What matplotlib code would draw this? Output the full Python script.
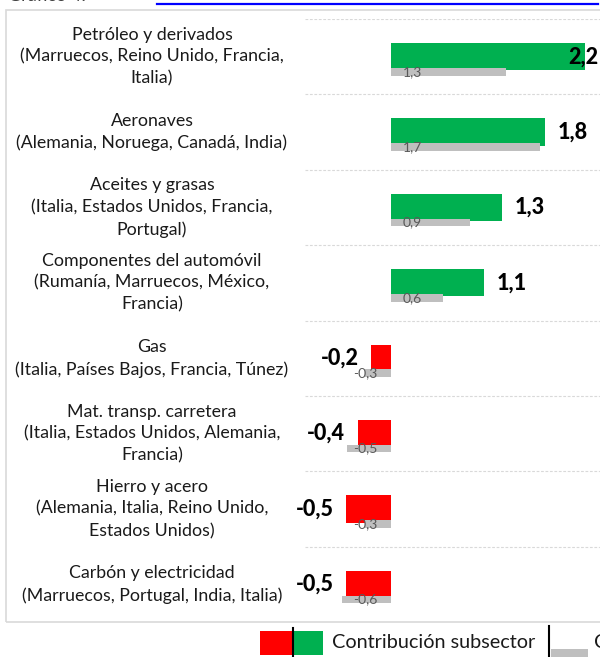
import matplotlib
matplotlib.use("Agg")
import matplotlib.pyplot as plt
from matplotlib.patches import Rectangle
from matplotlib.lines import Line2D
from matplotlib.transforms import blended_transform_factory

plt.rcParams["font.family"] = ["Lato", "DejaVu Sans"]

# Data
sectores = [
    "Petróleo y derivados\n(Marruecos, Reino Unido, Francia,\nItalia)",
    "Aeronaves\n(Alemania, Noruega, Canadá, India)",
    "Aceites y grasas\n(Italia, Estados Unidos, Francia,\nPortugal)",
    "Componentes del automóvil\n(Rumanía, Marruecos, México,\nFrancia)",
    "Gas\n(Italia, Países Bajos, Francia, Túnez)",
    "Mat. transp. carretera\n(Italia, Estados Unidos, Alemania,\nFrancia)",
    "Hierro y acero\n(Alemania, Italia, Reino Unido,\nEstados Unidos)",
    "Carbón y electricidad\n(Marruecos, Portugal, India, Italia)",
]
contribucion = [2.22, 1.76, 1.27, 1.06, -0.23, -0.38, -0.51, -0.51]
contribucion_prev = [1.31, 1.70, 0.90, 0.59, -0.30, -0.50, -0.30, -0.56]

W, H = 600, 657
DPI = 100
fig = plt.figure(figsize=(W / DPI, H / DPI), dpi=DPI)

def fx(px):
    return px / W

def fy(py):
    return 1 - py / H

# Header remains (cropped title and link underline)
fig.text(fx(8), fy(1.0), "Gráfico 4:", fontsize=13, color="#404040", va="baseline", ha="left")
fig.add_artist(Line2D([fx(157), fx(598)], [fy(4), fy(4)], color="#0000FF", lw=1.6))

# Frame
fig.add_artist(Rectangle((fx(6), fy(622)), 1.0, (622 - 10) / H, transform=fig.transFigure,
                         fill=False, edgecolor="#d9d9d9", lw=1.2))

ax = fig.add_axes([fx(305), fy(622), fx(600 - 305), (622 - 19) / H])
n = len(sectores)
ypos = list(range(n))
colors = ["#00B050" if v >= 0 else "#FF0000" for v in contribucion]

ax.barh(ypos, contribucion, height=0.36, color=colors, zorder=2)
ax.barh([y + 0.2 for y in ypos], contribucion_prev, height=0.1, color="#BFBFBF", zorder=3)

xmax = (600 - 391) / 87.5
ax.set_xlim(-(391 - 305) / 87.5, xmax)
ax.set_ylim(n - 0.5, -0.5)
ax.axis("off")

for b in range(n):
    ax.axhline(b - 0.5, color="#d9d9d9", lw=0.8, ls=(0, (2.5, 1.5)), zorder=1)

lab_tr = blended_transform_factory(ax.transAxes, ax.transData)
for i, (s, v, p) in enumerate(zip(sectores, contribucion, contribucion_prev)):
    ax.text((152 - 305) / 295, i, s, transform=lab_tr, ha="center", va="center",
            multialignment="center", fontsize=12.8, color="#1a1a1a", linespacing=1.45)
    txt = f"{v:.1f}".replace(".", ",")
    if v >= 0 and v > xmax - 0.45:
        # label does not fit to the right: Excel pushes it inside the plot edge
        ax.text(0.995, i, txt, transform=lab_tr, ha="right", va="center", fontsize=15.5,
                fontweight="black", color="black", zorder=5)
    else:
        off = 9 if v >= 0 else -9
        ax.annotate(txt, (v, i), xytext=(off, 0), textcoords="offset points",
                    ha="left" if v >= 0 else "right", va="center", fontsize=15.5,
                    fontweight="black", color="black", zorder=5)
    poff = 8.5 if p >= 0 else -9.5
    ax.annotate(f"{p:.1f}".replace(".", ","), (0, i + 0.2), xytext=(poff, 0), textcoords="offset points",
                ha="left" if p >= 0 else "right", va="center", fontsize=10,
                color="#595959", zorder=5)

# Legend
fig.add_artist(Rectangle((fx(260), fy(655)), fx(32), 24 / H, transform=fig.transFigure,
                         color="#FF0000", lw=0))
fig.add_artist(Rectangle((fx(293), fy(655)), fx(30), 24 / H, transform=fig.transFigure,
                         color="#00B050", lw=0))
fig.add_artist(Line2D([fx(292.5), fx(292.5)], [fy(628), fy(657)], color="black", lw=1.5))
fig.text(fx(332), fy(643), "Contribución subsector", fontsize=14.3, color="#1a1a1a",
         ha="left", va="center")
fig.add_artist(Line2D([fx(548.5), fx(548.5)], [fy(626), fy(657)], color="black", lw=1.5))
fig.add_artist(Rectangle((fx(551), fy(657)), fx(37), 8 / H, transform=fig.transFigure,
                         color="#BFBFBF", lw=0))
fig.text(fx(594), fy(643), "Contribución", fontsize=14.3, color="#1a1a1a",
         ha="left", va="center")

fig.savefig("out.png", dpi=DPI)
